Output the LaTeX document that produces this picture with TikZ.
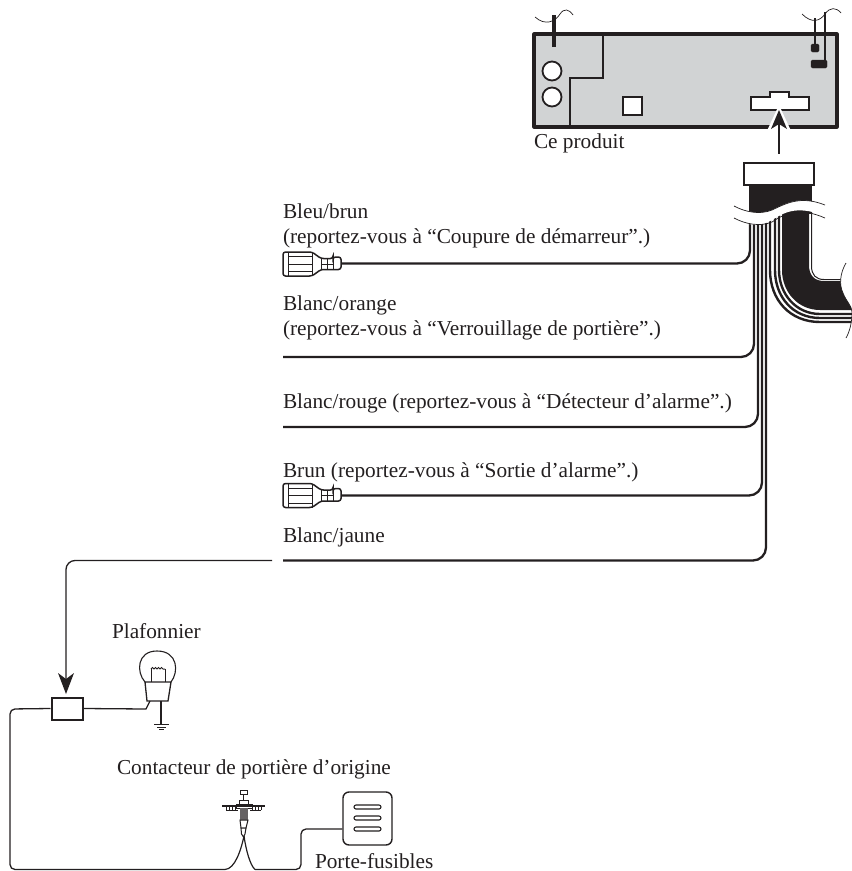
\documentclass[tikz,border=0pt]{standalone}
\usepackage{fontspec}
\setmainfont{Liberation Serif}
\definecolor{ink}{HTML}{231F20}
\definecolor{panel}{HTML}{D1D3D4}
\tikzset{
  lbl/.style={anchor=base west,inner sep=0pt,outer sep=0pt,text=ink,font=\fontsize{21.3}{25}\selectfont},
  wire/.style={draw=ink,line width=2.3pt,rounded corners=13pt},
  thin wire/.style={draw=ink,line width=1.3pt,rounded corners=5pt},
  hair/.style={draw=ink,line width=0.7pt},
}
\newcommand{\terminal}[2]{%
  \begin{scope}[shift={(#1,#2)}]
    \draw[ink,line width=1.5pt,rounded corners=2.5pt,fill=white] (283,252) -- (312,252) -- (321,258.5) -- (333,258.5) -- (333,257) -- (341,257) -- (341,269.5) -- (333,269.5) -- (321,269.5) -- (312,276) -- (283,276) -- cycle;
    \draw[ink,line width=1pt] (288,252) -- (288,276) (288,256.5) -- (312,256.5) (288,264) -- (312,264) (288,271.5) -- (312,271.5) (312,252) -- (312,276) (321,258.5) -- (321,269.5) (327,258.5) -- (327,269.5) (321,264) -- (333,264) (333,257) -- (333,269.5);
  \end{scope}}
\begin{document}
\begin{tikzpicture}[x=1pt,y=-1pt]
\useasboundingbox (0,0) rectangle (852,871);
% product
\draw[ink,line width=3.2pt,fill=panel,line join=round] (534,34) rectangle (837,127);
\draw[ink,line width=1.9pt] (603,34) -- (603,78) -- (570,78) -- (570,127);
\draw[ink,line width=1.8pt,fill=white] (552,71) circle (9.5);
\draw[ink,line width=1.8pt,fill=white] (552,97) circle (9.5);
\draw[ink,line width=1.8pt,fill=white] (623,97) rectangle (642,115);
\draw[ink,line width=1.8pt,fill=white] (751,97) -- (770,97) -- (770,92) -- (789,92) -- (789,97) -- (809,97) -- (809,110) -- (751,110) -- cycle;
\draw[ink,line width=3.2pt] (554,47) -- (554,15);
\draw[hair] (535,17) .. controls (545,26) and (555,22) .. (560,14) .. controls (564,8) and (569,9) .. (573,15);
\draw[ink,line width=2.6pt] (815,18) -- (815,45);
\draw[ink,line width=2.6pt] (825,12) -- (825,62);
\draw[hair] (802,14) .. controls (812,24) and (820,21) .. (825,14) .. controls (830,7) and (836,7) .. (841,13);
\draw[ink,fill=ink,rounded corners=1.5pt] (811,44) rectangle (819,52);
\draw[ink,fill=ink,rounded corners=1.5pt] (811,60) rectangle (827,68);
% arrow into the product
\fill[white] (779,105) -- (766,133) -- (792,133) -- cycle;
\draw[ink,line width=1.2pt] (779,120) -- (779,154);
\fill[ink] (779,110) -- (787,129) -- (779,124) -- (771,129) -- cycle;
% harness
\fill[ink] (749,185) rectangle (812,214);
\draw[ink,line width=1.5pt,fill=white] (744,163) rectangle (814,185);
% wide band and outer strands
\begin{scope}
\clip (730,205) -- (852,205) -- (852,263) -- (846,263) .. controls (840,273) and (839,285) .. (843,293) .. controls (846,301) and (852,306) .. (852,312) .. controls (852,322) and (850,331) .. (846,338) -- (730,338) -- cycle;
\draw[ink,line width=2.4pt,line join=round] (770,215) -- (770,270) .. controls (770,300) and (790,322) .. (820,322) -- (860,322);
\draw[ink,line width=2.4pt] (775,215) -- (775,270) .. controls (775,297) and (793,318) .. (820,318) -- (860,318);
\draw[ink,line width=2.4pt] (779,215) -- (779,270) .. controls (779,294) and (796,314) .. (820,314) -- (860,314);
\fill[ink] (782,212) -- (782,270) .. controls (782,292) and (798,310) .. (820,310) -- (860,310) -- (860,281) -- (824,281) .. controls (814,281) and (809,275) .. (809,265) -- (809,195) -- (782,195) -- cycle;
\draw[ink,line width=1pt] (811.5,200) -- (811.5,266) .. controls (811.5,275) and (816,279.5) .. (824,279.5) -- (860,279.5);
\end{scope}
\draw[hair] (846,263) .. controls (840,273) and (839,285) .. (843,293) .. controls (846,301) and (852,306) .. (852,312) .. controls (852,322) and (850,331) .. (846,338);
% side wires
\coordinate (bbEnd) at (341,263.5);
\coordinate (boEnd) at (283,357);
\coordinate (brEnd) at (283,427);
\coordinate (brnEnd) at (341,495.5);
\coordinate (bjEnd) at (283,560.5);
\draw[wire] (750,215) -- (750,263.5) -- (bbEnd);
\draw[wire] (754,215) -- (754,357) -- (boEnd);
\draw[wire] (758,215) -- (758,427) -- (brEnd);
\draw[wire] (762,215) -- (762,495.5) -- (brnEnd);
\draw[wire] (766,215) -- (766,560.5) -- (bjEnd);
% cut band
\fill[white] (734,206) .. controls (745,212) and (760,215) .. (772,210) .. controls (785,204) and (798,195) .. (825,205) -- (830,218) .. controls (798,204) and (785,212) .. (772,220) .. controls (760,228) and (745,225) .. (734,218) -- cycle;
\draw[hair] (734,206) .. controls (745,212) and (760,215) .. (772,210) .. controls (785,204) and (800,195) .. (825,205);
\draw[hair] (734,218) .. controls (745,224) and (760,227) .. (772,222) .. controls (785,213) and (800,207) .. (825,218);
\fill[white] (826,190) rectangle (852,225);
% terminals
\terminal{0}{0}
\terminal{0}{231.5}
% lower circuit
\coordinate (jTop) at (272,560.5);
\node[draw=ink,line width=2pt,fill=white,minimum width=31pt,minimum height=22pt,inner sep=0pt] (relay) at (67,708.5) {};
\draw[ink,line width=1.3pt,rounded corners=9pt] (jTop) -- (66,560.5) -- (66,682);
\fill[ink] (66,694) -- (58,673) -- (66,679) -- (74,673) -- cycle;
% bulb
\coordinate (bulbFoot) at (146,709);
\draw[ink,line width=1.1pt] (145,682) .. controls (136,672) and (137,651) .. (157,651) .. controls (178,651) and (179,672) .. (171,682);
\draw[ink,line width=1.3pt] (145,682) -- (171,682) -- (168,701) -- (147,701) -- cycle;
\draw[ink,line width=1pt] (151,682) -- (151,669) (165,682) -- (165,669);
\draw[ink,line width=1pt] (151,669) .. controls (152,667) and (153,667) .. (154,669) .. controls (155,667) and (156,667) .. (157,669) .. controls (158,667) and (159,667) .. (160,669) .. controls (161,667) and (162,667) .. (163,669) -- (165,669);
\draw[ink,line width=1.1pt] (161,701) -- (161,724);
\draw[ink,line width=1pt] (154,724) -- (169,724) (157,727) -- (166,727) (159,729.5) -- (164,729.5);
\draw[thin wire,rounded corners=0pt] (relay.east) -- (bulbFoot) -- (150,701);
% left return
\coordinate (swLeft) at (225,869.5);
\coordinate (swTop) at (244,836);
\coordinate (swRight) at (255,869.5);
\draw[thin wire] (relay.west) -- (10,709) -- (10,869.5) -- (swLeft);
\draw[ink,line width=1.2pt] (swLeft) .. controls (235,869) and (241,850) .. (swTop);
\draw[ink,line width=1.2pt] (swTop) .. controls (246,850) and (250,865) .. (swRight);
% switch
\draw[ink,line width=1pt,fill=white] (240,790.5) rectangle (247,794);
\draw[ink,line width=1.2pt] (243.5,794) -- (243.5,800);
\draw[ink,line width=1pt] (239,800) rectangle (248,804);
\draw[ink,line width=1pt] (236,804) rectangle (252,808);
\draw[ink,line width=1.3pt] (222,806) -- (265,806);
\draw[ink,line width=0.8pt] (226,806) -- (226,810) (229,806) -- (229,810) (232,806) -- (232,810) (235,806) -- (235,810) (252,806) -- (252,810) (255,806) -- (255,810) (258,806) -- (258,810) (261,806) -- (261,810);
\draw[ink,line width=0.7pt] (226,810) -- (238,810) (250,810) -- (261,810);
\fill[ink!70] (240,808) rectangle (248,820);
\draw[ink,line width=1pt,fill=white] (240,820) -- (248,820) -- (246,828) -- (241,828) -- cycle;
\draw[ink,line width=1pt,fill=white] (241,828) -- (246,828) -- (245,834) -- (243.5,837) -- (241.5,834) -- cycle;
% fuse holder
\node[draw=ink,line width=1.4pt,fill=white,rounded corners=6pt,minimum width=49pt,minimum height=53pt,inner sep=0pt] (fuse) at (367.5,818.5) {};
\foreach \yy in {807,818,829}
  \draw[ink,line width=1.1pt,rounded corners=2pt] (354,\yy-2) rectangle (381,\yy+2);
\draw[thin wire] (swRight) -- (301,869.5) -- (301,829) -- (fuse.west |- 0,829);
% labels
\node[lbl] (tProd) at (534,148) {Ce produit};
\node[lbl] (tBb) at (283,218.5) {Bleu/brun};
\node[lbl] (tBb2) at (283,243) {(reportez-vous à “Coupure de démarreur”.)};
\node[lbl] (tBo) at (283,310) {Blanc/orange};
\node[lbl] (tBo2) at (283,335) {(reportez-vous à “Verrouillage de portière”.)};
\node[lbl] (tBr) at (283,408) {Blanc/rouge (reportez-vous à “Détecteur d’alarme”.)};
\node[lbl] (tBrn) at (283,477) {Brun (reportez-vous à “Sortie d’alarme”.)};
\node[lbl] (tBj) at (283,542) {Blanc/jaune};
\node[lbl] (tPl) at (112,638) {Plafonnier};
\node[lbl] (tCo) at (117,774) {Contacteur de portière d’origine};
\node[lbl] (tPf) at (315,868) {Porte-fusibles};
\end{tikzpicture}
\end{document}
